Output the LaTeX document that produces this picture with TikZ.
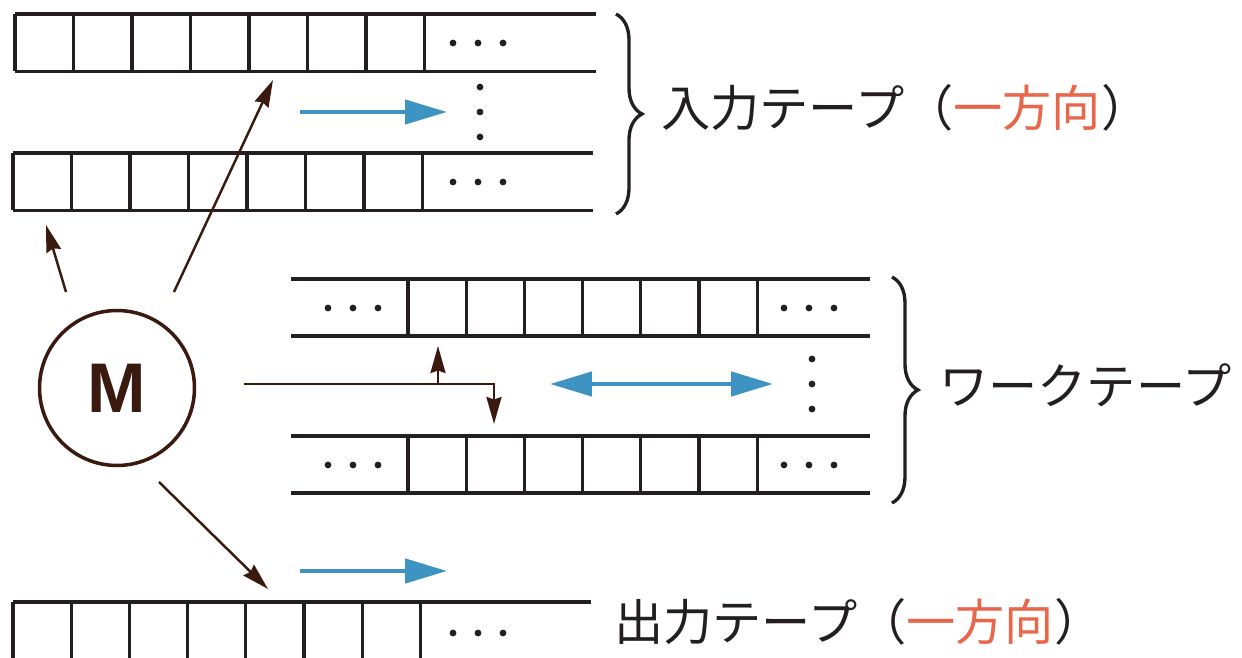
\documentclass[tikz,border=0pt]{standalone}
\usepackage{fontspec}
\usepackage{xcolor}
\usepackage{tikz}
\usetikzlibrary{shapes,positioning,calc,arrows.meta,decorations.pathreplacing}
\newfontfamily\jpfont{Noto Sans CJK JP}
\newfontfamily\mfont{Liberation Sans}
\definecolor{tapeblack}{HTML}{231F20}
\definecolor{headbrown}{HTML}{3A1A0E}
\definecolor{moveblue}{HTML}{3D93C1}
\definecolor{dirred}{HTML}{E8664A}

\begin{document}
\begin{tikzpicture}[x=0.02cm, y=-0.02cm,
        tape/.style={line width=1.8pt, tapeblack},
        ctrl/.style={line width=1.4pt, headbrown, >={Stealth[length=0.54cm, width=0.3cm, inset=0.05cm]}, ->},
        move/.style={line width=2.6pt, moveblue, >={Triangle[length=0.84cm, width=0.48cm]}, ->},
        curly/.style={decorate, decoration={brace, amplitude=0.52cm}, line width=1.9pt, tapeblack},
        tapelabel/.style={font={\jpfont\fontsize{28}{32}\selectfont}, text=tapeblack, inner sep=0pt, anchor=west}]
        \useasboundingbox (0,0) rectangle (1242,658);
        \clip (0,0) rectangle (1242,658);

        % input tapes
        \foreach \y/\x/\r in {14/15/596, 153/13/593} {
            \draw [tape] (\x,\y) -- (\r,\y) (\x,\y+57.5) -- (\r,\y+57.5);
            \foreach \i in {0,...,7}
                \draw [tape] (\x+58.5*\i,\y) -- (\x+58.5*\i,\y+57.5);
            \foreach \d in {0,1,2}
                \fill [tapeblack] (453+25*\d,\y+29) circle (3.4);
        }
        \foreach \y in {87,112,137}
            \fill [tapeblack] (480,\y) circle (3.4);
        \draw [move] (300,112) -- (447,112);
        \draw [curly] (616,14) -- (616,214);
        \node [tapelabel] (inlabel) at (661,108) {入力テープ（\textcolor{dirred}{一方向}）};

        % work tapes
        \foreach \y in {279,436} {
            \draw [tape] (291,\y) -- (870,\y) (291,\y+57) -- (870,\y+57);
            \foreach \i in {0,...,6}
                \draw [tape] (408+58.2*\i,\y) -- (408+58.2*\i,\y+57);
            \foreach \d in {0,1,2} {
                \fill [tapeblack] (328+25*\d,\y+29) circle (3.4);
                \fill [tapeblack] (784+25*\d,\y+29) circle (3.4);
            }
        }
        \foreach \y in {359,384,409}
            \fill [tapeblack] (812,\y) circle (3.4);
        \draw [move, <->] (550,384) -- (773,384);
        \draw [curly] (892,277) -- (892,503);
        \node [tapelabel] (worklabel) at (939,385) {ワークテープ};

        % output tape
        \draw [tape] (13,602) -- (591,602);
        \foreach \i in {0,...,7}
            \draw [tape] (13+58.2*\i,602) -- (13+58.2*\i,662);
        \foreach \d in {0,1,2}
            \fill [tapeblack] (453+25*\d,633) circle (3.4);
        \draw [move] (300,571) -- (447,571);
        \node [tapelabel] (outlabel) at (614,622) {出力テープ（\textcolor{dirred}{一方向}）};

        % machine and its heads
        \node [circle, draw=headbrown, line width=2pt, minimum size=3.1cm, inner sep=0pt,
            text=headbrown, font={\mfont\bfseries\fontsize{40}{40}\selectfont}] (M) at (117,388) {M};
        \coordinate (in2from) at (66,292);
        \coordinate (in2head) at (46,225);
        \coordinate (in1from) at (174,292);
        \coordinate (in1head) at (273,80);
        \coordinate (outfrom) at (159,482);
        \coordinate (outhead) at (268,589);
        \coordinate (wkfrom) at (244,384);
        \coordinate (fork) at (438,384);
        \coordinate (corner) at (494,384);
        \coordinate (wk1head) at (438,346);
        \coordinate (wk2head) at (494,424);
        \draw [ctrl] (in2from) -- (in2head);
        \draw [ctrl] (in1from) -- (in1head);
        \draw [ctrl] (outfrom) -- (outhead);
        \draw [ctrl] (wkfrom) -- (corner) -- (wk2head);
        \draw [ctrl] (fork) -- (wk1head);
    \end{tikzpicture}
\end{document}
